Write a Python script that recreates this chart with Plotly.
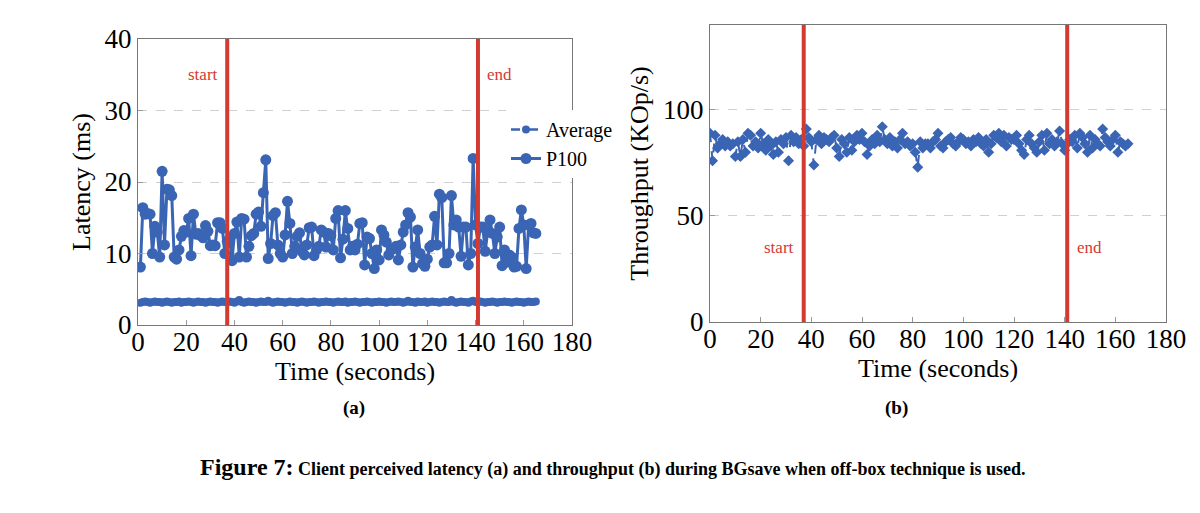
import plotly.graph_objects as go

# latency (a): one sample per second
lat_time = list(range(1, 166))
p100 = [
    8.1, 16.4, 15.5, 15.6, 15.5, 10.0, 13.8, 13.0, 9.5, 21.5,
    11.2, 19.0, 18.9, 18.1, 9.5, 9.2, 10.5, 12.4, 13.2, 13.0,
    14.9, 9.7, 15.5, 12.7, 12.8, 12.5, 12.2, 13.9, 13.1, 11.1,
    11.2, 11.1, 14.3, 14.3, 13.5, 10.0, 11.7, 12.0, 9.0, 12.8,
    14.4, 9.5, 14.9, 14.8, 9.5, 11.0, 12.5, 12.8, 15.5, 15.8,
    13.8, 18.5, 23.1, 9.3, 11.4, 15.3, 15.7, 11.2, 10.0, 9.5,
    12.6, 17.3, 14.2, 10.0, 11.0, 12.4, 12.9, 10.3, 9.8, 11.2,
    13.6, 13.7, 9.7, 10.5, 11.0, 13.3, 13.0, 10.9, 12.8, 12.5,
    10.5, 14.9, 16.0, 9.4, 12.0, 16.0, 13.5, 10.5, 11.0, 10.5,
    11.3, 14.2, 14.3, 8.4, 12.3, 12.1, 10.0, 7.9, 10.5, 9.1,
    13.3, 12.6, 11.6, 9.8, 10.5, 10.7, 11.0, 9.1, 11.2, 13.0,
    14.0, 15.7, 15.1, 8.1, 10.9, 13.3, 10.0, 8.6, 8.2, 9.2,
    10.9, 11.2, 15.2, 11.2, 18.3, 17.8, 8.7, 8.7, 10.0, 18.1,
    14.0, 14.7, 13.7, 9.6, 13.7, 13.7, 8.4, 10.0, 23.3, 14.0,
    11.4, 13.7, 13.7, 10.3, 13.0, 14.7, 12.8, 10.0, 12.3, 13.7,
    8.3, 10.5, 8.8, 9.8, 9.5, 8.1, 8.2, 13.5, 16.1, 14.0,
    7.9, 14.0, 14.2, 12.9, 12.8,
]
average = [
    3.1, 3.2, 3.3, 3.2, 3.1, 3.2, 3.3, 3.2, 3.2, 3.1,
    3.2, 3.3, 3.2, 3.1, 3.2, 3.2, 3.3, 3.1, 3.2, 3.2,
    3.3, 3.2, 3.1, 3.2, 3.3, 3.2, 3.2, 3.1, 3.2, 3.3,
    3.2, 3.2, 3.1, 3.2, 3.3, 3.2, 3.2, 3.3, 3.2, 3.1,
    3.3, 3.5, 3.2, 3.1, 3.2, 3.3, 3.2, 3.2, 3.1, 3.2,
    3.3, 3.2, 3.2, 3.4, 3.2, 3.1, 3.2, 3.3, 3.2, 3.2,
    3.1, 3.2, 3.3, 3.2, 3.2, 3.1, 3.2, 3.3, 3.2, 3.1,
    3.2, 3.2, 3.3, 3.2, 3.1, 3.2, 3.2, 3.3, 3.2, 3.2,
    3.1, 3.2, 3.3, 3.2, 3.2, 3.3, 3.1, 3.2, 3.2, 3.3,
    3.2, 3.1, 3.2, 3.2, 3.3, 3.2, 3.1, 3.2, 3.2, 3.3,
    3.2, 3.2, 3.1, 3.2, 3.3, 3.2, 3.2, 3.3, 3.2, 3.1,
    3.2, 3.4, 3.2, 3.2, 3.1, 3.3, 3.2, 3.2, 3.3, 3.1,
    3.2, 3.3, 3.2, 3.2, 3.1, 3.2, 3.3, 3.2, 3.2, 3.5,
    3.2, 3.1, 3.2, 3.3, 3.2, 3.2, 3.1, 3.3, 3.4, 3.2,
    3.2, 3.3, 3.2, 3.1, 3.2, 3.2, 3.3, 3.2, 3.1, 3.2,
    3.2, 3.3, 3.2, 3.2, 3.1, 3.2, 3.3, 3.2, 3.2, 3.1,
    3.2, 3.3, 3.2, 3.2, 3.3,
]

# throughput (b), KOp/s
tput_time = list(range(0, 166))
throughput = [
    89, 76, 88, 82, 84, 86, 83, 85, 83, 84,
    78, 85, 78, 86, 80, 89, 88, 83, 85, 82,
    89, 84, 81, 86, 83, 79, 85, 80, 86, 84,
    87, 76, 88, 85, 87, 84, 86, 83, 91, 87,
    85, 74, 86, 88, 84, 87, 86, 85, 87, 88,
    82, 78, 86, 84, 80, 87, 81, 85, 88, 86,
    89, 85, 79, 83, 86, 84, 88, 85, 92, 86,
    84, 87, 83, 85, 82, 86, 89, 84, 85, 83,
    84, 80, 73, 85, 82, 84, 84, 82, 85, 86,
    89, 83, 82, 85, 86, 87, 84, 83, 85, 87,
    86, 84, 85, 83, 86, 85, 87, 84, 83, 86,
    80, 84, 88, 87, 89, 85, 88, 83, 87, 86,
    86, 88, 84, 81, 79, 86, 88, 84, 82, 80,
    85, 88, 81, 89, 84, 86, 83, 85, 90, 84,
    81, 84, 86, 85, 88, 82, 89, 87, 84, 80,
    88, 82, 86, 84, 83, 91, 87, 85, 83, 86,
    88, 80, 85, 84, 83, 84,
]

bgsave_start = 37
bgsave_end = 141

BLUE = '#3a64b4'
RED = '#d33b32'
SERIF = 'Liberation Serif'

# the page body adds an 8px margin, so the figure is sized to fit inside it
W, H = 1184, 497


def px(x):
    return (x - 8) / W


def py(y):
    return 1 - (y - 8) / H


fig = go.Figure()

fig.add_trace(go.Scatter(
    x=lat_time, y=average, name='Average', mode='lines+markers',
    line=dict(color=BLUE, width=2.5, dash='dash'),
    marker=dict(color=BLUE, size=8, symbol='circle'),
    xaxis='x', yaxis='y'))
fig.add_trace(go.Scatter(
    x=lat_time, y=p100, name='P100', mode='lines+markers',
    line=dict(color=BLUE, width=3),
    marker=dict(color=BLUE, size=11, symbol='circle'),
    xaxis='x', yaxis='y'))
fig.add_trace(go.Scatter(
    x=tput_time, y=throughput, name='Throughput', mode='lines+markers',
    line=dict(color=BLUE, width=2, dash='dash'),
    marker=dict(color=BLUE, size=8.5, symbol='diamond'),
    showlegend=False, xaxis='x2', yaxis='y2'))

axis_common = dict(
    showline=True, mirror=True, linecolor='#777777', linewidth=1,
    ticks='inside', ticklen=5, tickcolor='#999999',
    tickfont=dict(family=SERIF, size=27, color='black'),
    zeroline=False, automargin=False,
)
xticks = dict(tickmode='array', tickvals=[0, 20, 40, 60, 80, 100, 120, 140, 160, 180],
              ticklabelstandoff=-7)

fig.update_layout(
    width=W, height=H,
    paper_bgcolor='white', plot_bgcolor='white',
    margin=dict(l=0, r=0, t=0, b=0),
    font=dict(family=SERIF, color='black'),
    xaxis=dict(domain=[px(138), px(572)], range=[0, 180], showgrid=False,
               title=dict(text='Time (seconds)', font=dict(size=26), standoff=0),
               anchor='y', **xticks, **axis_common),
    yaxis=dict(domain=[py(325), py(39)], range=[0, 40],
               tickvals=[0, 10, 20, 30, 40],
               showgrid=True, gridcolor='#d0d0d0', griddash='dash', gridwidth=1,
               title=dict(text='Latency (ms)', font=dict(size=26), standoff=6),
               anchor='x', **axis_common),
    xaxis2=dict(domain=[px(710), px(1166)], range=[0, 180], showgrid=False,
                title=dict(text='Time (seconds)', font=dict(size=26), standoff=0),
                anchor='y2', **xticks, **axis_common),
    yaxis2=dict(domain=[py(322), py(25)], range=[0, 140],
                tickvals=[0, 50, 100],
                showgrid=True, gridcolor='#d0d0d0', griddash='dash', gridwidth=1,
                title=dict(text='Throughput (KOp/s)', font=dict(size=26), standoff=6),
                anchor='x2', **axis_common),
    legend=dict(x=px(506), y=py(110), xanchor='left', yanchor='top',
                bgcolor='white', borderwidth=0,
                font=dict(family=SERIF, size=20), tracegroupgap=0,
                itemwidth=30),
    showlegend=True,
)

# BGsave start/end markers
for xa, ya in (('x', 'y'), ('x2', 'y2')):
    for t in (bgsave_start, bgsave_end):
        fig.add_shape(type='line', xref=xa, yref=ya + ' domain',
                      x0=t, x1=t, y0=0, y1=1,
                      line=dict(color=RED, width=4), layer='above')

label_font = dict(family=SERIF, size=17, color=RED)
fig.add_annotation(x=bgsave_start - 3, y=35, xref='x', yref='y', text='start',
                   showarrow=False, xanchor='right', font=label_font)
fig.add_annotation(x=bgsave_end + 3, y=35, xref='x', yref='y', text='end',
                   showarrow=False, xanchor='left', font=label_font)
fig.add_annotation(x=bgsave_start - 3, y=35, xref='x2', yref='y2', text='start',
                   showarrow=False, xanchor='right', font=label_font)
fig.add_annotation(x=bgsave_end + 3, y=35, xref='x2', yref='y2', text='end',
                   showarrow=False, xanchor='left', font=label_font)

# sub-figure labels and caption
fig.add_annotation(x=px(341), y=py(421), xref='paper', yref='paper',
                   text='<b>(a)</b>', showarrow=False,
                   font=dict(family=SERIF, size=19, color='black'))
fig.add_annotation(x=px(910), y=py(421), xref='paper', yref='paper',
                   text='<b>(b)</b>', showarrow=False,
                   font=dict(family=SERIF, size=19, color='black'))
fig.add_annotation(
    x=px(612), y=py(482), xref='paper', yref='paper', showarrow=False,
    text=('<b><span style="font-size:24px">Figure 7:</span> Client perceived latency (a) '
          'and throughput (b) during BGsave when off-box technique is used.</b>'),
    font=dict(family=SERIF, size=18, color='black'))

fig.write_html('out.html')
